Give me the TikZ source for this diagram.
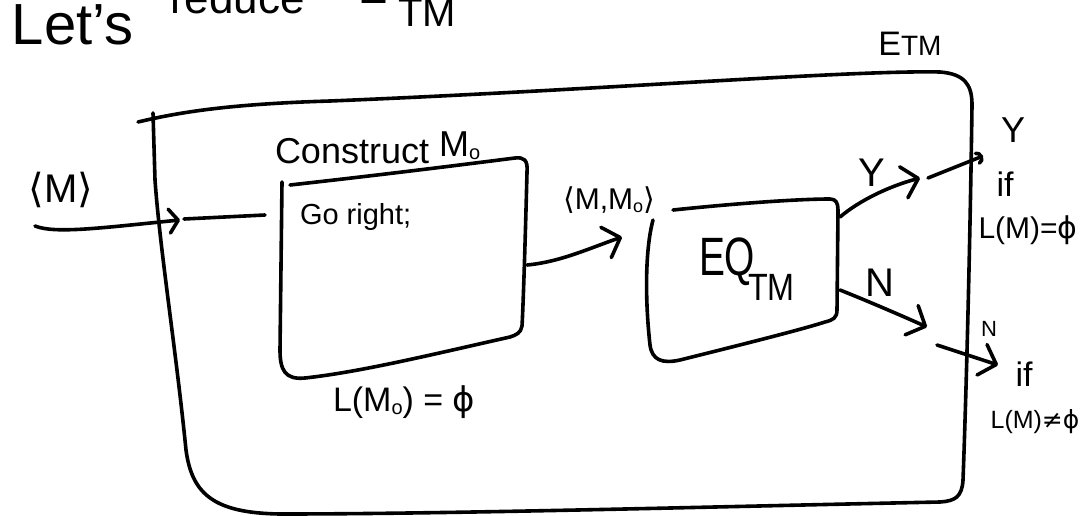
\documentclass[tikz,border=0pt]{standalone}
\usepackage{fontspec}
\usepackage{graphicx}
\setmainfont{Liberation Sans}
\newfontfamily\symfont{DejaVu Sans}
\usetikzlibrary{arrows.meta}

\newcommand{\fsz}[1]{\fontsize{#1}{#1}\selectfont}
\newcommand{\subo}[1]{\raisebox{-3pt}{\fsz{#1}o}}

\begin{document}
\begin{tikzpicture}[x=1pt,y=-1pt,
  pen/.style={line width=3.6pt, line cap=round, line join=round},
  flow/.style={pen, -{Straight Barb[round,length=15pt,width=32pt]}},
  smallflow/.style={pen, -{Straight Barb[round,length=9pt,width=24pt]}},
  hookflow/.style={pen, -{Arc Barb[round,length=6pt,width=14pt]}},
  txt/.style={inner sep=0pt, outer sep=0pt}
]
\useasboundingbox (0,0) rectangle (1083,516);

% heading, running off the top edge
\node[txt, anchor=base west, font=\fsz{58}] (hlets) at (12,45) {Let's};
\node[txt, anchor=base west, font=\fsz{44}] (hred) at (170,14) {reduce};
\node[txt, anchor=base west, font=\fsz{44}] (hE) at (358,4) {E};
\node[txt, anchor=base west, font=\fsz{40}] (hTM) at (398,27) {TM};

% decider for E_TM: outer box
\node[txt, font=\fsz{34}] (etm) at (910,44) {E{\fsz{28}TM}};
\draw[pen] (138,122) .. controls (180,112) and (230,104) .. (330,101)
  .. controls (600,90) and (850,70) .. (940,72)
  .. controls (965,74) and (972,85) .. (972,105)
  .. controls (970,250) and (966,400) .. (963,480)
  .. controls (962,497) and (955,501) .. (940,502)
  .. controls (700,507) and (450,514) .. (280,514)
  .. controls (215,513) and (192,495) .. (186,450)
  .. controls (176,350) and (160,250) .. (155,180) -- (153,113);

% machine that builds M_o
\node[txt, anchor=base west, font=\fsz{36}] (con) at (275,163) {Construct \raisebox{7pt}{M\subo{20}}};
\draw[pen] (290,185) .. controls (380,175) and (460,165) .. (515,158)
  .. controls (524,157) and (528,160) .. (527,172)
  .. controls (525,250) and (523,310) .. (522,326)
  .. controls (521,333) and (516,335) .. (510,337)
  .. controls (430,355) and (360,372) .. (305,378)
  .. controls (285,380) and (280,370) .. (280,350) -- (282,182);
\node[txt, anchor=base west, font=\fsz{29}] (go) at (300,224) {Go right;};
\node[txt, anchor=base west, font=\fsz{34}] (lm0) at (333,411) {L(M\subo{20}) = {\symfont ϕ}};

% EQ_TM decider
\draw[pen] (653,220) .. controls (645,250) and (645,300) .. (650,345)
  .. controls (652,360) and (662,364) .. (680,360)
  .. controls (740,345) and (800,330) .. (825,322)
  .. controls (833,320) and (837,318) .. (837,310)
  -- (838,210) .. controls (838,203) and (836,199) .. (830,199)
  .. controls (800,199) and (740,203) .. (673,210);
\node[txt, anchor=base west, font=\fsz{54}] (eq) at (699,275) {\scalebox{0.72}[1]{EQ}};
\node[txt, anchor=base west, font=\fsz{38}] (eqtm) at (748,300) {\scalebox{0.85}[1]{TM}};

% input
\node[txt, font=\fsz{40}] (inM) at (61,190) {{\symfont ⟨}M{\symfont ⟩}};
\coordinate (inA) at (35,226);
\coordinate (inB) at (180,220);
\coordinate (inC) at (184,219);
\coordinate (inD) at (265,215);
\draw[smallflow] (inA) .. controls (55,234) and (100,228) .. (inB);
\draw[pen] (inC) -- (inD);

% M_o handed to EQ_TM
\node[txt, font=\fsz{30}] (mm0) at (609,200) {{\symfont ⟨}M,M\subo{18}{\symfont ⟩}};
\coordinate (cOut) at (527,265);
\coordinate (eqIn) at (622,237);
\draw[flow] (cOut) .. controls (560,262) and (590,248) .. (eqIn);

% yes branch
\coordinate (eqY) at (840,217);
\coordinate (yA) at (920,178);
\coordinate (yB) at (928,178);
\coordinate (yC) at (983,156);
\node[txt, font=\fsz{40}] (ylab) at (872,173) {Y};
\draw[flow] (eqY) .. controls (860,200) and (890,186) .. (yA);
\draw[hookflow] (yB) -- (yC);
\node[txt, font=\fsz{36}] (ry) at (1013,130) {Y};
\node[txt, font=\fsz{34}] (rif1) at (1005,184) {if};
\node[txt, font=\fsz{30}] (rl1) at (1028,230) {L(M)={\symfont ϕ}};

% no branch
\coordinate (eqN) at (840,290);
\coordinate (nA) at (927,327);
\coordinate (nB) at (937,345);
\coordinate (nC) at (998,365);
\node[txt, font=\fsz{40}] (nlab) at (880,283) {N};
\draw[flow] (eqN) .. controls (870,302) and (900,315) .. (nA);
\draw[flow] (nB) -- (nC);
\node[txt, font=\fsz{22}] (rn) at (989,329) {N};
\node[txt, font=\fsz{34}] (rif2) at (1024,374) {if};
\node[txt, font=\fsz{25}] (rl2) at (1035,422) {L(M){\symfont ≠ϕ}};
\end{tikzpicture}
\end{document}
